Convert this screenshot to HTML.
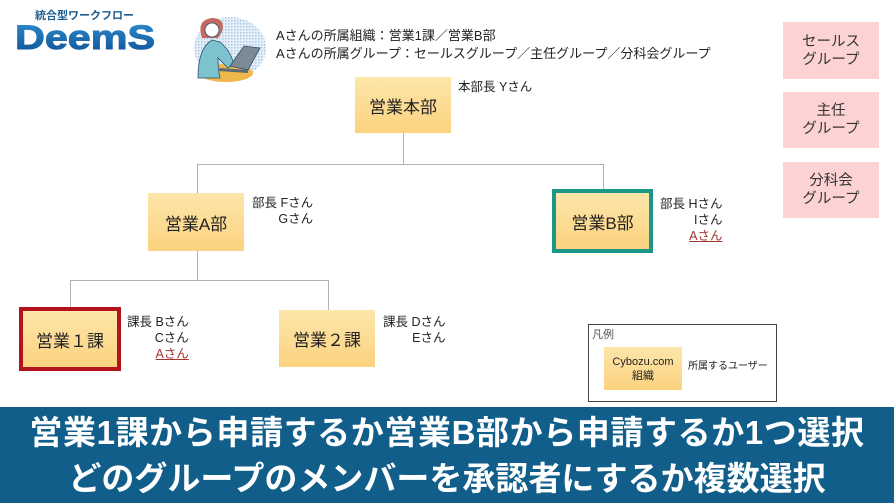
<!DOCTYPE html>
<html><head><meta charset="utf-8">
<style>
html,body{margin:0;padding:0;}
body{width:894px;height:503px;position:relative;overflow:hidden;background:#fff;font-family:"Liberation Sans","Noto Sans CJK JP",sans-serif;color:#222;}
.a{position:absolute;white-space:nowrap;}
.node{position:absolute;box-sizing:border-box;background:linear-gradient(#fde6aa,#fbd27f);display:flex;align-items:center;justify-content:center;font-size:17px;color:#222;}
.ln{position:absolute;background:#b0b0b0;}
.t{position:absolute;font-size:12.5px;line-height:16px;white-space:nowrap;color:#222;}
.pink{position:absolute;background:#fcd2d2;font-size:14.5px;line-height:18px;text-align:center;display:flex;align-items:center;justify-content:center;color:#333;}
.red{color:#a3352d;text-decoration:underline;}
</style></head><body>

<!-- Logo -->
<div class="a" style="left:35px;top:9px;font-size:11px;line-height:14px;color:#1d5c8f;font-weight:bold;">統合型ワークフロー</div>
<svg class="a" style="left:0;top:0" width="180" height="60">
<defs><linearGradient id="lg" x1="0" y1="0" x2="0" y2="1"><stop offset="0" stop-color="#2f8fd0"/><stop offset="1" stop-color="#0d4f92"/></linearGradient></defs>
<text x="15" y="49" font-family="Liberation Sans" font-weight="bold" font-size="34" fill="url(#lg)" stroke="url(#lg)" stroke-width="1" textLength="140" lengthAdjust="spacingAndGlyphs">DeemS</text>
</svg>

<!-- Illustration -->
<svg class="a" style="left:180px;top:8px" width="90" height="80">
<defs><pattern id="dots" width="3" height="3" patternUnits="userSpaceOnUse"><rect width="3" height="3" fill="#e6f0f8"/><rect width="1.5" height="1.5" fill="#a9c9e3"/></pattern></defs>
<ellipse cx="50" cy="40" rx="36" ry="31" fill="url(#dots)"/>
<ellipse cx="46" cy="65" rx="27" ry="9" fill="#f0b84a"/>
<path d="M22 30 q-6 -18 10 -20 q14 0 10 14 l-4 6 z" fill="#c46a62"/>
<circle cx="32" cy="22" r="7" fill="#fff" stroke="#2d4f6a" stroke-width="0.8"/>
<path d="M18 70 q0 -30 14 -38 l8 2 q10 8 14 22 l-6 4 -10 -10 q0 12 2 20 z" fill="#7cc2cf" stroke="#2d4f6a" stroke-width="0.8"/>
<path d="M50 58 l14 -20 l16 2 l-12 22 z" fill="#7d8a95" stroke="#2d4f6a" stroke-width="0.8"/>
<path d="M40 60 l28 2 l0 3 l-30 -2 z" fill="#5d6a75"/>
</svg>

<!-- Header info -->
<div class="t" style="left:276px;top:28px;font-size:13px;">Aさんの所属組織：営業1課／営業B部</div>
<div class="t" style="left:276px;top:46px;font-size:13px;">Aさんの所属グループ：セールスグループ／主任グループ／分科会グループ</div>

<!-- Pink groups -->
<div class="pink" style="left:783px;top:22px;width:96px;height:57px;">セールス<br>グループ</div>
<div class="pink" style="left:783px;top:92px;width:96px;height:56px;">主任<br>グループ</div>
<div class="pink" style="left:783px;top:162px;width:96px;height:56px;">分科会<br>グループ</div>

<!-- Connectors -->
<div class="ln" style="left:403px;top:133px;width:1px;height:31px;"></div>
<div class="ln" style="left:197px;top:164px;width:407px;height:1px;"></div>
<div class="ln" style="left:197px;top:164px;width:1px;height:29px;"></div>
<div class="ln" style="left:603px;top:164px;width:1px;height:25px;"></div>
<div class="ln" style="left:197px;top:251px;width:1px;height:29px;"></div>
<div class="ln" style="left:70px;top:280px;width:259px;height:1px;"></div>
<div class="ln" style="left:70px;top:280px;width:1px;height:27px;"></div>
<div class="ln" style="left:328px;top:280px;width:1px;height:30px;"></div>

<!-- Nodes -->
<div class="node" style="left:355px;top:77px;width:96px;height:56px;">営業本部</div>
<div class="node" style="left:148px;top:193px;width:96px;height:58px;">営業A部</div>
<div class="node" style="left:552px;top:189px;width:101px;height:64px;border:4px solid #1b9687;">営業B部</div>
<div class="node" style="left:19px;top:307px;width:102px;height:64px;border:4px solid #b3141b;">営業１課</div>
<div class="node" style="left:279px;top:310px;width:96px;height:57px;">営業２課</div>

<!-- Annotations -->
<div class="t" style="left:458px;top:79px;">本部長 Yさん</div>
<div class="t" style="left:252px;top:195px;text-align:right;">部長 Fさん<br>Gさん</div>
<div class="t" style="left:660px;top:196px;text-align:right;">部長 Hさん<br>Iさん<br><span class="red">Aさん</span></div>
<div class="t" style="left:127px;top:314px;text-align:right;">課長 Bさん<br>Cさん<br><span class="red">Aさん</span></div>
<div class="t" style="left:383px;top:314px;text-align:right;">課長 Dさん<br>Eさん</div>

<!-- Legend -->
<div class="a" style="left:588px;top:324px;width:189px;height:78px;box-sizing:border-box;border:1px solid #444;"></div>
<div class="a" style="left:592px;top:328px;font-size:11px;line-height:14px;color:#555;">凡例</div>
<div class="node" style="left:604px;top:347px;width:78px;height:43px;font-size:11px;line-height:14px;text-align:center;">Cybozu.com<br>組織</div>
<div class="a" style="left:688px;top:360px;font-size:10px;line-height:14px;">所属するユーザー</div>

<!-- Banner -->
<div class="a" style="left:0;top:407px;width:894px;height:96px;background:#115e8a;"></div>
<div class="a" style="left:0;top:411px;width:894px;text-align:center;color:#fff;font-weight:bold;font-size:33px;line-height:44px;letter-spacing:0.6px;">営業1課から申請するか営業B部から申請するか1つ選択</div>
<div class="a" style="left:0;top:457px;width:894px;text-align:center;color:#fff;font-weight:bold;font-size:33px;line-height:44px;">どのグループのメンバーを承認者にするか複数選択</div>

</body></html>
